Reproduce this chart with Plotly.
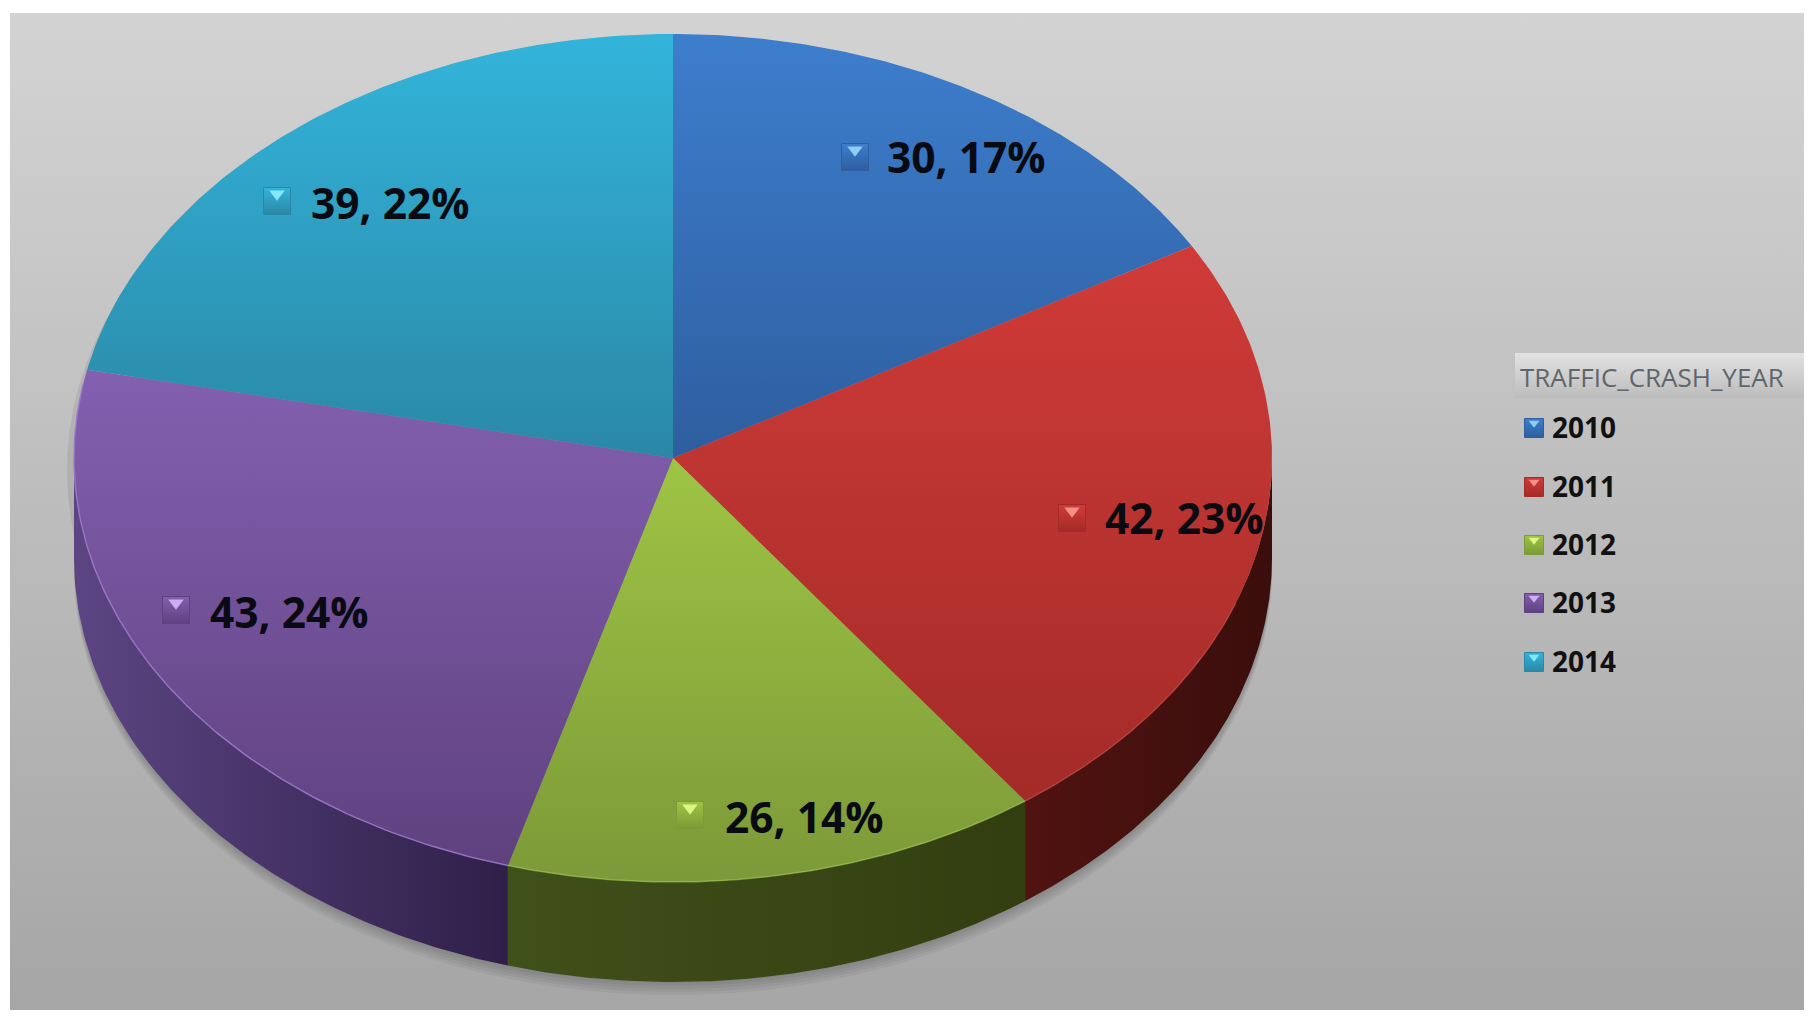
import numpy as np
import plotly.graph_objects as go

# dados
anos = ["2010", "2011", "2012", "2013", "2014"]
crashes = [30, 42, 26, 43, 39]
percent = [17, 23, 14, 24, 22]

# estilo de cada fatia
topo_claro = ["#3d7ecd", "#d03b38", "#9ec444", "#8360b0", "#33b4db"]
topo_escuro = ["#2e5e9f", "#a32b28", "#7c9a38", "#5f417f", "#2a88a6"]
lado_claro = ["#22426e", "#501310", "#40501a", "#5c4583", "#1f6075"]
lado_escuro = ["#22426e", "#3a0e0c", "#323e10", "#2f1f48", "#1f6075"]
borda = ["rgba(74,136,216,0.7)", "rgba(216,80,80,0.5)", "rgba(180,216,96,0.5)",
         "rgba(154,120,200,0.9)", "rgba(69,192,229,0.7)"]
marca_clara = ["#8fcdf5", "#f59088", "#dcf585", "#cdaef5", "#85e8f5"]

# posicao da pizza e dos rotulos (em pixels)
cx, cy = 673, 458
rx, ry = 599, 424
prof = 100
rotulo_marca = [(855, 157), (1072, 518), (690, 815), (176, 610), (277, 201)]
rotulo_texto = [(887, 156), (1105, 517), (725, 816), (210, 611), (311, 202)]
leg_y = [428, 487, 545, 603, 662]

fig = go.Figure()


def arco(a0, a1, dy=0):
    t = np.radians(np.linspace(a0, a1, 120))
    return cx + rx * np.sin(t), cy + dy - ry * np.cos(t)


def poligono(x, y, cor=None, grad=None, linha=None):
    fig.add_trace(go.Scatter(
        x=x, y=y, mode="lines", fill="toself", fillcolor=cor, fillgradient=grad,
        line=dict(color=linha or "rgba(0,0,0,0)", width=1.5),
        hoverinfo="skip", showlegend=False,
    ))


def gradiente(tipo, c0, c1):
    return dict(type=tipo, colorscale=[[0, c0], [1, c1]])


# fundo
poligono([10, 1804, 1804, 10, 10], [13, 13, 1010, 1010, 13],
         grad=gradiente("vertical", "#a6a6a6", "#d3d3d3"))

# faixa clara do titulo da legenda
poligono([1515, 1804, 1804, 1515, 1515], [353, 353, 398, 398, 353],
         grad=gradiente("vertical", "#bcbcbc", "#e2e2e2"))

# sombra
for d in [3, 6, 9, 12, 15]:
    x, y = arco(0, 360, prof + d - 2)
    poligono(x, y, cor="rgba(60,60,60,0.07)")
x, y = arco(0, 360, 12)
poligono(x - 7, y, cor="rgba(60,60,60,0.10)")

angulos = np.cumsum([0] + crashes) / sum(crashes) * 360

# parede lateral
for i in range(len(anos)):
    a0 = max(angulos[i], 90)
    a1 = min(angulos[i + 1], 270)
    if a1 <= a0:
        continue
    x0, y0 = arco(a0, a1)
    x1, y1 = arco(a1, a0, prof)
    poligono(np.r_[x0, x1, x0[0]], np.r_[y0, y1, y0[0]],
             grad=gradiente("horizontal", lado_claro[i], lado_escuro[i]))

# face de cima
for i in range(len(anos)):
    x, y = arco(angulos[i], angulos[i + 1])
    poligono(np.r_[cx, x, cx], np.r_[cy, y, cy],
             grad=gradiente("vertical", topo_escuro[i], topo_claro[i]))

# brilho na borda da frente
for i in range(len(anos)):
    a0 = max(angulos[i], 110)
    a1 = min(angulos[i + 1], 280)
    if a1 > a0:
        x, y = arco(a0, a1)
        fig.add_trace(go.Scatter(x=x, y=y, mode="lines", hoverinfo="skip", showlegend=False,
                                 line=dict(color=borda[i], width=1.5)))


def marcador(x, y, i, tam):
    fig.add_trace(go.Scatter(
        x=[x], y=[y], mode="markers", hoverinfo="skip", showlegend=False,
        marker=dict(symbol="square", size=tam, color=topo_claro[i],
                    gradient=dict(type="vertical", color=topo_escuro[i]),
                    line=dict(color=topo_escuro[i], width=1)),
    ))
    fig.add_trace(go.Scatter(
        x=[x], y=[y - tam * 0.26], mode="markers", hoverinfo="skip", showlegend=False,
        marker=dict(symbol="triangle-down", size=tam * 0.5, color=marca_clara[i], line_width=0),
    ))


for i in range(len(anos)):
    marcador(rotulo_marca[i][0], rotulo_marca[i][1], i, 27)
    fig.add_annotation(x=rotulo_texto[i][0], y=rotulo_texto[i][1], xanchor="left", yanchor="middle",
                       text=f"<b>{crashes[i]}, {percent[i]}%</b>", showarrow=False, xshift=-2,
                       font=dict(family="Open Sans", size=42.5, color="#0a0a12"))
    marcador(1534, leg_y[i], i, 19)
    fig.add_annotation(x=1552, y=leg_y[i] - 1, xanchor="left", yanchor="middle",
                       text=f"<b>{anos[i]}</b>", showarrow=False, xshift=-2,
                       font=dict(family="Open Sans", size=28, color="#111111"))

fig.add_annotation(x=1520, y=377, xanchor="left", yanchor="middle", text="TRAFFIC_CRASH_YEAR",
                   showarrow=False, xshift=-2, font=dict(family="Open Sans", size=26, color="#5f666b"))

fig.update_xaxes(range=[0, 1810], visible=False)
fig.update_yaxes(range=[1020, 0], visible=False)
fig.update_layout(width=1810, height=1020, margin=dict(l=0, r=0, t=0, b=0),
                  paper_bgcolor="white", plot_bgcolor="white", showlegend=False)

# tira a margem padrao da pagina e a barra de ferramentas
fig.write_html("out.html", config={"displayModeBar": False},
               post_script="document.body.style.margin='0';")
